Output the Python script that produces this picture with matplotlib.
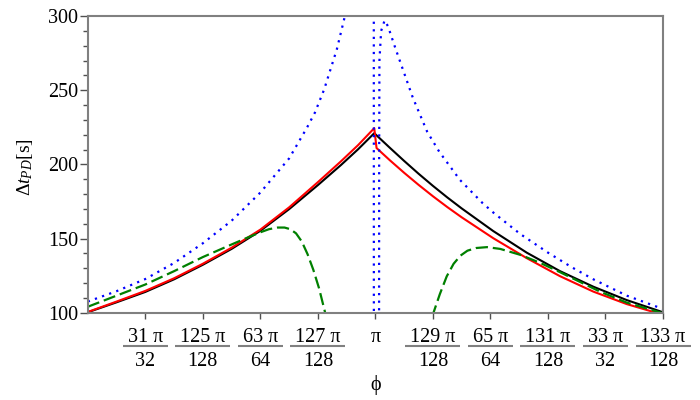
import numpy as np
import matplotlib.pyplot as plt
from matplotlib.ticker import MultipleLocator

plt.rcParams['font.family'] = ['Liberation Serif', 'DejaVu Serif']
plt.rcParams['mathtext.fontset'] = 'custom'
plt.rcParams['mathtext.rm'] = 'Liberation Serif'
plt.rcParams['mathtext.it'] = 'Liberation Serif:italic'

# x values are in units of pi/128
black_k = [123.0, 123.5, 124.0, 124.5, 125.0, 125.5, 126.0, 126.5, 127.0, 127.4, 127.7, 127.98,
           128.25, 128.5, 128.75, 129.0, 129.25, 129.5, 130.05, 130.63, 131.21, 131.79, 132.37, 133.0]
black_dt = [100.3, 107, 114, 122.5, 132.3, 143, 155.2, 169.8, 186, 199.5, 210.2, 221,
            211.2, 202.3, 193.7, 185.5, 177.7, 170.3, 155, 140.5, 128, 117.5, 108.5, 100.3]

red_k = [123.0, 123.5, 124.0, 124.5, 125.0, 125.5, 126.0, 126.5, 127.0, 127.4, 127.7, 127.98,
         128.02, 128.25, 128.5, 128.75, 129.0, 129.25, 129.5, 130.05, 130.63, 131.21, 131.79, 132.37, 133.0]
red_dt = [100.5, 107.5, 114.7, 123.2, 133, 143.8, 156, 171, 188, 202, 213, 224.4,
          211, 202.8, 194.3, 186.2, 178.5, 171.2, 164.3, 150.2, 136.8, 124.6, 114.2, 105.8, 98.6]

blue_k = [123.0, 123.5, 124.0, 124.5, 125.0, 125.5, 126.0, 126.5, 126.81, 126.95, 127.11, 127.33,
          127.47, 127.6, 127.75, 127.9, 127.97, 127.975, 128.06, 128.065, 128.07, 128.1, 128.16,
          128.22, 128.28, 128.35, 128.45, 128.65, 128.9, 129.11, 129.47, 129.86, 130.05, 130.52,
          131.0, 131.42, 131.79, 132.37, 133.0]
blue_dt = [107.5, 114.5, 122.7, 133.5, 146.8, 162, 181, 204, 224.7, 235, 250.6, 277.6,
           300, 325, 370, 480, 800, -300, -300, 200, 270, 290, 297,
           293, 286, 278, 267, 245, 222, 208.5, 189.5, 174, 167.5, 153,
           140.5, 130.5, 122.5, 111.5, 102.5]

green_left_k = [123.0, 123.5, 124.0, 124.5, 125.0, 125.5, 125.8, 126.0, 126.15, 126.3, 126.42,
                126.52, 126.62, 126.72, 126.82, 126.92, 127.02, 127.12, 127.2, 127.3]
green_left_dt = [104, 111.5, 119, 128, 137.5, 146, 151, 154.2, 156.3, 157.4, 157.4,
                 156.3, 153.5, 148, 139.5, 129, 116.5, 101, 87, 70]
green_right_k = [128.9, 129.01, 129.12, 129.24, 129.36, 129.48, 129.6, 129.75, 129.94, 130.17,
                 130.52, 130.87, 131.21, 131.56, 131.9, 132.37, 133.0]
green_right_dt = [86, 100, 112.5, 124.5, 133, 138.5, 141.8, 143.6, 144.2, 143,
                  139, 133.5, 127.3, 120.7, 114.3, 106.8, 99.6]

tick_k = [124, 125, 126, 127, 128, 129, 130, 131, 132, 133]
tick_num = ["31 π", "125 π", "63 π", "127 π", "π", "129 π", "65 π", "131 π", "33 π", "133 π"]
tick_den = ["32", "128", "64", "128", "", "128", "64", "128", "32", "128"]

u = np.pi / 128

fig = plt.figure(figsize=(7, 4), dpi=100)
ax = fig.add_axes([87.8/700, 1-312.7/400, (663-87.8)/700, (312.7-16)/400])

ax.plot(np.array(black_k)*u, black_dt, color="black", lw=1.5)
ax.plot(np.array(red_k)*u, red_dt, color="red", lw=1.5)
ax.plot(np.array(green_left_k)*u, green_left_dt, color="#008000", lw=1.6, linestyle=(0, (5.5, 2.2)))
ax.plot(np.array(green_right_k)*u, green_right_dt, color="#008000", lw=1.6, linestyle=(0, (5.5, 2.2)))
ax.plot(np.array(blue_k)*u, blue_dt, color="blue", lw=1.6, linestyle=(0, (1, 2.4)))

ax.set_xlim(123*u, 133*u)
ax.set_ylim(100, 300)

for s in ax.spines.values():
    s.set_color("#808080")
    s.set_linewidth(1.5)

ax.yaxis.set_major_locator(MultipleLocator(50))
ax.yaxis.set_minor_locator(MultipleLocator(10))
ax.tick_params(axis="y", which="major", length=6, width=1, color="#505050", labelsize=14.5, pad=1)
ax.tick_params(axis="y", which="minor", length=3.5, width=1, color="#505050")
ax.set_xticks(np.array(tick_k)*u)
ax.tick_params(axis="x", length=4.5, width=1, color="#505050", labelbottom=False)

# fraction tick labels
trans = ax.get_xaxis_transform()
px = (663-87.8) / 10.0
for k, num, den in zip(tick_k, tick_num, tick_den):
    ax.text(k*u, -0.0977, num, transform=trans, ha="center", va="baseline", fontsize=14.5)
    if den:
        ax.text(k*u, -0.1786, den, transform=trans, ha="center", va="baseline", fontsize=14.5)
        w = 45 if len(den) == 2 else 55
        hw = w / 2.0 / px * u
        ax.plot([k*u-hw, k*u+hw], [-0.111, -0.111], transform=trans, clip_on=False,
                color="#808080", lw=1.5, solid_capstyle="butt")

ax.text(128*u, -0.2437, "ϕ", transform=trans, ha="center", va="center", fontsize=14.5)
fig.text(25/700, 1-167/400, r"$\Delta t_{PD}$[s]", rotation=90, ha="center", va="center", fontsize=14)

plt.savefig("out.png", dpi=100)
